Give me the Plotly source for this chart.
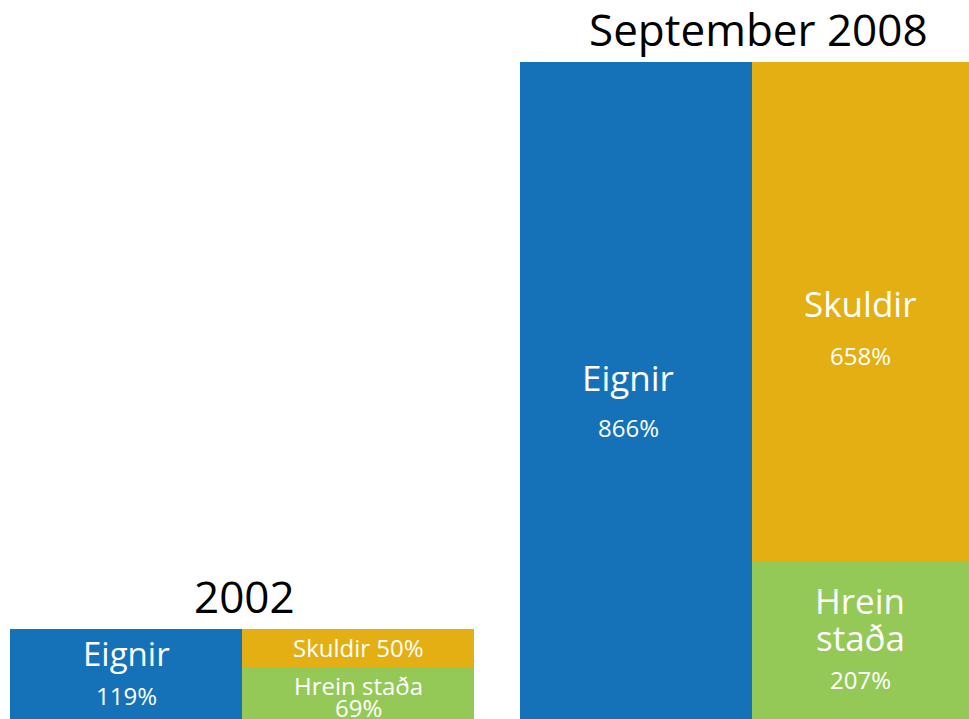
import plotly.graph_objects as go

# data
periods = ["2002", "September 2008"]
eignir = [119, 866]
skuldir = [50, 658]
hrein = [69, 207]

blue = '#1572B9'
gold = '#E4AF12'
green = '#95C957'
font = "Open Sans"

# bar layout (units of one bar width)
x_eig = [0.5, 2.7]
x_stack = [1.5, 3.7]

fig = go.Figure()
fig.add_trace(go.Bar(x=x_eig, y=eignir, width=1, marker=dict(color=blue, line=dict(width=0)),
                     name="Eignir", hoverinfo="y"))
fig.add_trace(go.Bar(x=x_stack, y=hrein, width=1, marker=dict(color=green, line=dict(width=0)),
                     name="Hrein staða", hoverinfo="y"))
fig.add_trace(go.Bar(x=x_stack, y=skuldir, width=1, marker=dict(color=gold, line=dict(width=0)),
                     name="Skuldir", hoverinfo="y"))


def label(x, y, text, size, shift, color="white", xshift=0):
  fig.add_annotation(x=x, y=y, text=text, showarrow=False, yshift=shift, xshift=xshift,
                     xanchor="center", yanchor="middle",
                     font=dict(family=font, size=size, color=color))


# titles above each group
title_xshift = [2, 6]
for i, p in enumerate(periods):
  label((x_eig[i] + x_stack[i]) / 2, eignir[i], p, 44, 33, color="black", xshift=title_xshift[i])

# 2002
label(x_eig[0], eignir[0] / 2, "Eignir", 33, 20)
label(x_eig[0], eignir[0] / 2, f"{eignir[0]}%", 24, -22)
label(x_stack[0], hrein[0] + skuldir[0] / 2, f"Skuldir {skuldir[0]}%", 24, 0)
label(x_stack[0], hrein[0] / 2, "Hrein staða", 24, 7)
label(x_stack[0], hrein[0] / 2, f"{hrein[0]}%", 24, -15)

# September 2008
label(x_eig[1], eignir[1] / 2, "Eignir", 35, 13, xshift=-8)
label(x_eig[1], eignir[1] / 2, f"{eignir[1]}%", 24, -37, xshift=-8)
label(x_stack[1], hrein[1] + skuldir[1] / 2, "Skuldir", 35, 9, xshift=-8)
label(x_stack[1], hrein[1] + skuldir[1] / 2, f"{skuldir[1]}%", 24, -43, xshift=-8)
label(x_stack[1], hrein[1] / 2, "Hrein", 35, 40, xshift=-8)
label(x_stack[1], hrein[1] / 2, "staða", 35, 3, xshift=-8)
label(x_stack[1], hrein[1] / 2, f"{hrein[1]}%", 24, -39, xshift=-8)

fig.update_layout(barmode="stack", bargap=0, showlegend=False,
                  width=969, height=719, margin=dict(l=0, r=0, t=0, b=0),
                  plot_bgcolor="white", paper_bgcolor="white")
fig.update_xaxes(range=[-10 / 232, 959 / 232], visible=False)
fig.update_yaxes(range=[0, 719 / 0.759], visible=False)

# drop the default body margin so the figure fills the window
fig.write_html("out.html", config={"displayModeBar": False},
               post_script="document.body.style.margin='0';document.body.style.overflow='hidden';")
